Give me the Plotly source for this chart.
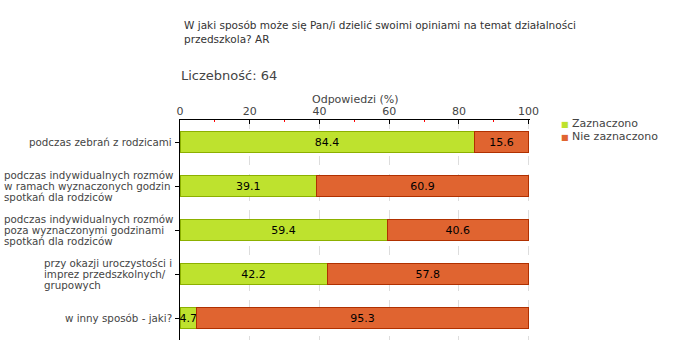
import plotly.graph_objects as go

categories = [
    "podczas zebrań z rodzicami",
    "podczas indywidualnych rozmów w ramach wyznaczonych godzin spotkań dla rodziców",
    "podczas indywidualnych rozmów poza wyznaczonymi godzinami spotkań dla rodziców",
    "przy okazji uroczystości i imprez przedszkolnych/ grupowych",
    "w inny sposób - jaki?",
]
category_lines = [
    ["podczas zebrań z rodzicami"],
    ["podczas indywidualnych rozmów", "w ramach wyznaczonych godzin", "spotkań dla rodziców"],
    ["podczas indywidualnych rozmów", "poza wyznaczonymi godzinami", "spotkań dla rodziców"],
    ["przy okazji uroczystości i", "imprez przedszkolnych/", "grupowych"],
    ["w inny sposób - jaki?"],
]
zaznaczono = [84.4, 39.1, 59.4, 42.2, 4.7]
nie_zaznaczono = [15.6, 60.9, 40.6, 57.8, 95.3]
x_ticks = [0, 20, 40, 60, 80, 100]

FONT = "DejaVu Sans"
GREEN, GREEN_LINE = "#bee22e", "#8cb000"
ORANGE, ORANGE_LINE = "#e06430", "#b03000"

fig = go.Figure()
fig.add_trace(go.Bar(
    y=categories, x=zaznaczono, orientation="h", name="Zaznaczono",
    marker=dict(color=GREEN, line=dict(color=GREEN_LINE, width=1)),
    text=[f"{v:.1f}" for v in zaznaczono], textposition="inside", textangle=0,
    insidetextanchor="middle", constraintext="none",
    textfont=dict(color="black", size=11, family=FONT),
    showlegend=False, hoverinfo="skip",
))
fig.add_trace(go.Bar(
    y=categories, x=nie_zaznaczono, orientation="h", name="Nie zaznaczono",
    marker=dict(color=ORANGE, line=dict(color=ORANGE_LINE, width=1)),
    text=[f"{v:.1f}" for v in nie_zaznaczono], textposition="inside", textangle=0,
    insidetextanchor="middle", constraintext="none",
    textfont=dict(color="black", size=11, family=FONT),
    showlegend=False, hoverinfo="skip",
))

def px_x(px):
    return (px - 180) / 350

def px_y(py):
    return (340 - py) / 220

annotations = [
    dict(text="W jaki sposób może się Pan/i dzielić swoimi opiniami na temat działalności<br>przedszkola? AR",
         xref="paper", yref="paper", x=px_x(182), y=px_y(17), xanchor="left", yanchor="top",
         align="left", showarrow=False, font=dict(size=10.5, color="#333")),
    dict(text="Liczebność: 64", xref="paper", yref="paper",
         x=px_x(179), y=px_y(66), xanchor="left", yanchor="top",
         showarrow=False, font=dict(size=13, color="#444")),
    dict(text="Odpowiedzi (%)", xref="paper", yref="paper",
         x=px_x(355), y=px_y(91), xanchor="center", yanchor="top",
         showarrow=False, font=dict(size=11, color="#444")),
    dict(text=f"<span style='color:{GREEN};font-size:8px'>■</span> Zaznaczono", xref="paper", yref="paper",
         x=px_x(559), y=px_y(123), xanchor="left", yanchor="middle",
         showarrow=False, font=dict(size=11, color="#444")),
    dict(text=f"<span style='color:{ORANGE};font-size:8px'>■</span> Nie zaznaczono", xref="paper", yref="paper",
         x=px_x(559), y=px_y(136), xanchor="left", yanchor="middle",
         showarrow=False, font=dict(size=11, color="#444")),
]
LINE_H = 11
block_left = {1: 2, 2: 2, 3: 42}
for k, (cat, lines) in enumerate(zip(categories, category_lines)):
    n = len(lines)
    for i, line in enumerate(lines):
        if n == 1:
            xa, xp = "right", px_x(174)
        else:
            xa, xp = "left", px_x(block_left[k])
        annotations.append(dict(
            text=line, xref="paper", yref="y", x=xp, y=cat,
            xanchor=xa, yanchor="middle", showarrow=False,
            yshift=((n - 1) / 2 - i) * LINE_H,
            font=dict(size=10.3, color="#444"),
        ))

fig.update_layout(
    width=680, height=360,
    barmode="stack", bargap=0.54,
    margin=dict(l=180, r=150, t=120, b=20),
    paper_bgcolor="white", plot_bgcolor="white",
    font=dict(family=FONT, size=11, color="#444"),
    showlegend=False,
    hovermode=False,
    xaxis=dict(
        side="top", range=[0, 100.4], tickvals=x_ticks,
        showgrid=True, gridcolor="#dddddd", griddash="dash", gridwidth=1,
        showline=True, linecolor="black", linewidth=1,
        ticks="inside", ticklen=4, tickcolor="black",
        tickfont=dict(size=11, color="#444"),
        minor=dict(ticks="inside", ticklen=2, tickcolor="red", dtick=10, tick0=10, showgrid=False),
        zeroline=False, automargin=False,
    ),
    yaxis=dict(
        autorange="reversed", showline=True, linecolor="black", linewidth=1,
        ticks="outside", ticklen=4, tickcolor="black",
        showticklabels=False, showgrid=False, automargin=False,
    ),
    annotations=annotations,
)

fig.write_html("out.html", config={"displayModeBar": False},
               post_script="document.body.style.margin='0';")
